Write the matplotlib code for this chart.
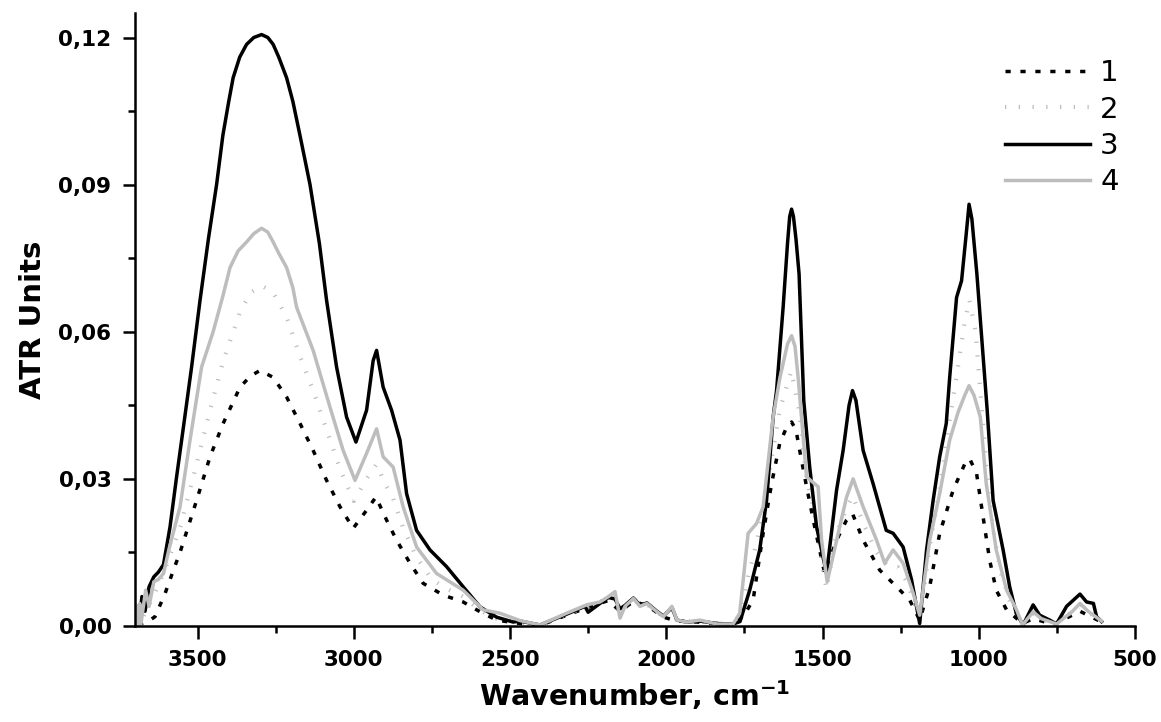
import matplotlib.pyplot as plt
from matplotlib.ticker import MultipleLocator, FuncFormatter

# series 1 - black dotted
wn1 = [3690, 3652, 3636, 3604, 3577, 3556, 3503, 3460, 3418, 3364, 3330, 3300,
       3258, 3215, 3172, 3130, 3087, 3044, 3002, 2959, 2929, 2895, 2863, 2820,
       2778, 2714, 2650, 2596, 2543, 2480, 2404, 2319, 2250, 2185, 2148, 2105,
       2062, 2009, 1966, 1900, 1790, 1754, 1722, 1690, 1663, 1637, 1615, 1599,
       1585, 1573, 1551, 1525, 1493, 1455, 1423, 1404, 1370, 1317, 1263, 1221,
       1189, 1157, 1125, 1082, 1045, 1029, 1007, 986, 965, 944, 911, 860, 826,
       760, 676, 607]
ab1 = [0.0002, 0.0012, 0.0019, 0.0066, 0.0114, 0.0150, 0.0256, 0.0345, 0.0413,
       0.0487, 0.0510, 0.0521, 0.0507, 0.0467, 0.0413, 0.0358, 0.0297, 0.0243,
       0.0199, 0.0236, 0.0263, 0.0216, 0.0175, 0.0128, 0.0087, 0.0063, 0.0049,
       0.0029, 0.0012, 0.0006, 0.0001, 0.0022, 0.0038, 0.0052, 0.0030, 0.0050,
       0.0042, 0.0018, 0.0010, 0.0008, 0.0003, 0.0019, 0.0053, 0.0189, 0.0290,
       0.0372, 0.0405, 0.0416, 0.0400, 0.0358, 0.0284, 0.0202, 0.0107, 0.0175,
       0.0216, 0.0229, 0.0175, 0.0114, 0.0080, 0.0053, 0.0012, 0.0080, 0.0189,
       0.0277, 0.0330, 0.0341, 0.0311, 0.0222, 0.0134, 0.0073, 0.0033, 0.0005,
       0.0015, 0.0003, 0.0030, 0.0008]

# series 2 - light grey hatched
wn2 = [3700, 3680, 3650, 3620, 3590, 3556, 3503, 3460, 3418, 3364, 3330, 3295,
       3258, 3215, 3172, 3130, 3087, 3044, 3000, 2959, 2927, 2900, 2874, 2842,
       2799, 2750, 2700, 2650, 2596, 2543, 2480, 2404, 2319, 2250, 2185, 2164,
       2148, 2105, 2062, 2009, 1982, 1966, 1900, 1790, 1760, 1738, 1711, 1690,
       1663, 1637, 1600, 1575, 1551, 1525, 1500, 1487, 1455, 1423, 1404, 1370,
       1327, 1290, 1260, 1230, 1210, 1189, 1160, 1125, 1093, 1066, 1045, 1030,
       1010, 995, 976, 955, 930, 900, 860, 826, 760, 676, 607]
ab2 = [0.0020, 0.0010, 0.0050, 0.0090, 0.0140, 0.0200, 0.0330, 0.0440, 0.0540,
       0.0640, 0.0680, 0.0694, 0.0680, 0.0630, 0.0550, 0.0480, 0.0400, 0.0320,
       0.0255, 0.0300, 0.0330, 0.0290, 0.0260, 0.0200, 0.0140, 0.0095, 0.0075,
       0.0060, 0.0032, 0.0015, 0.0008, 0.0001, 0.0024, 0.0040, 0.0056, 0.0060,
       0.0025, 0.0054, 0.0044, 0.0019, 0.0035, 0.0011, 0.0009, 0.0004, 0.0015,
       0.0100, 0.0170, 0.0230, 0.0340, 0.0440, 0.0520, 0.0440, 0.0300, 0.0230,
       0.0120, 0.0075, 0.0190, 0.0240, 0.0265, 0.0210, 0.0150, 0.0120, 0.0120,
       0.0090, 0.0055, 0.0010, 0.0150, 0.0280, 0.0420, 0.0530, 0.0620, 0.0665,
       0.0600, 0.0480, 0.0330, 0.0200, 0.0110, 0.0050, 0.0003, 0.0022, 0.0003,
       0.0040, 0.0009]

# series 3 - black solid
wn3 = [3700, 3693, 3686, 3678, 3668, 3655, 3640, 3625, 3609, 3588, 3567, 3545,
       3519, 3492, 3465, 3439, 3419, 3400, 3386, 3365, 3343, 3320, 3295, 3275,
       3258, 3240, 3215, 3195, 3172, 3140, 3110, 3087, 3055, 3023, 2993, 2959,
       2938, 2927, 2906, 2879, 2852, 2831, 2799, 2756, 2703, 2650, 2596, 2543,
       2490, 2468, 2404, 2319, 2260, 2250, 2212, 2185, 2164, 2148, 2132, 2105,
       2084, 2062, 2030, 2009, 1982, 1966, 1934, 1892, 1838, 1786, 1764, 1733,
       1701, 1679, 1658, 1647, 1626, 1612, 1605, 1599, 1593, 1585, 1575, 1560,
       1541, 1519, 1487, 1455, 1434, 1415, 1404, 1393, 1370, 1338, 1296, 1274,
       1242, 1215, 1189, 1167, 1146, 1125, 1104, 1093, 1071, 1055, 1040, 1031,
       1022, 1006, 973, 954, 922, 901, 880, 858, 826, 805, 773, 751, 719, 676,
       655, 633, 623, 607]
ab3 = [0.0010, 0.0040, 0.0008, 0.0060, 0.0030, 0.0080, 0.0100, 0.0110, 0.0125,
       0.0202, 0.0304, 0.0406, 0.0528, 0.0664, 0.0790, 0.0900, 0.1000, 0.1070,
       0.1118, 0.1160, 0.1186, 0.1200, 0.1206, 0.1200, 0.1186, 0.1160, 0.1118,
       0.1070, 0.1000, 0.0900, 0.0780, 0.0664, 0.0528, 0.0426, 0.0375, 0.0440,
       0.0541, 0.0562, 0.0487, 0.0440, 0.0379, 0.0270, 0.0195, 0.0155, 0.0121,
       0.0080, 0.0039, 0.0018, 0.0008, 0.0010, 0.0002, 0.0024, 0.0040, 0.0028,
       0.0046, 0.0058, 0.0055, 0.0035, 0.0042, 0.0057, 0.0042, 0.0047, 0.0030,
       0.0020, 0.0038, 0.0012, 0.0008, 0.0010, 0.0005, 0.0004, 0.0009, 0.0073,
       0.0155, 0.0256, 0.0426, 0.0480, 0.0650, 0.0780, 0.0835, 0.0850, 0.0835,
       0.0790, 0.0718, 0.0460, 0.0324, 0.0202, 0.0107, 0.0277, 0.0358, 0.0450,
       0.0480, 0.0460, 0.0358, 0.0290, 0.0195, 0.0189, 0.0161, 0.0094, 0.0005,
       0.0155, 0.0256, 0.0345, 0.0413, 0.0507, 0.0670, 0.0704, 0.0800, 0.0860,
       0.0830, 0.0718, 0.0440, 0.0256, 0.0155, 0.0080, 0.0026, 0.0002, 0.0043,
       0.0022, 0.0012, 0.0004, 0.0040, 0.0065, 0.0049, 0.0046, 0.0019, 0.0009]

# series 4 - grey solid
wn4 = [3700, 3698, 3692, 3685, 3682, 3666, 3655, 3640, 3625, 3609, 3590, 3556,
       3524, 3487, 3450, 3420, 3396, 3370, 3343, 3320, 3295, 3275, 3258, 3240,
       3215, 3195, 3183, 3130, 3076, 3034, 2996, 2959, 2927, 2906, 2874, 2842,
       2799, 2735, 2650, 2586, 2532, 2468, 2404, 2319, 2255, 2212, 2185, 2164,
       2148, 2132, 2105, 2084, 2062, 2030, 2009, 1982, 1966, 1934, 1892, 1838,
       1786, 1765, 1738, 1711, 1690, 1658, 1636, 1612, 1599, 1588, 1578, 1551,
       1514, 1503, 1485, 1445, 1423, 1402, 1370, 1327, 1301, 1274, 1242, 1210,
       1189, 1157, 1125, 1093, 1066, 1045, 1031, 1015, 995, 976, 944, 911, 879,
       860, 826, 800, 751, 700, 676, 650, 607]
ab4 = [0.0030, 0.0043, 0.0002, 0.0046, 0.0000, 0.0073, 0.0040, 0.0090, 0.0095,
       0.0107, 0.0160, 0.0243, 0.0379, 0.0528, 0.0600, 0.0670, 0.0731, 0.0765,
       0.0783, 0.0800, 0.0811, 0.0803, 0.0783, 0.0760, 0.0731, 0.0690, 0.0650,
       0.0562, 0.0446, 0.0358, 0.0297, 0.0352, 0.0402, 0.0345, 0.0324, 0.0243,
       0.0161, 0.0107, 0.0073, 0.0033, 0.0026, 0.0011, 0.0002, 0.0026, 0.0043,
       0.0049, 0.0060, 0.0070, 0.0016, 0.0040, 0.0056, 0.0040, 0.0046, 0.0029,
       0.0019, 0.0040, 0.0012, 0.0008, 0.0012, 0.0004, 0.0004, 0.0026, 0.0189,
       0.0209, 0.0243, 0.0426, 0.0507, 0.0575, 0.0592, 0.0570, 0.0507, 0.0304,
       0.0284, 0.0175, 0.0090, 0.0202, 0.0263, 0.0300, 0.0243, 0.0175, 0.0128,
       0.0155, 0.0128, 0.0067, 0.0022, 0.0175, 0.0270, 0.0379, 0.0436, 0.0470,
       0.0490, 0.0470, 0.0426, 0.0290, 0.0155, 0.0073, 0.0033, 0.0002, 0.0029,
       0.0015, 0.0004, 0.0030, 0.0046, 0.0030, 0.0010]

labels = ["1", "2", "3", "4"]

plt.rcParams["font.family"] = ["DejaVu Sans"]
plt.rcParams["mathtext.default"] = "bf"

fig = plt.figure(figsize=(11.61, 7.22), dpi=100)
ax = fig.add_axes([0.1163, 0.1330, 0.8613, 0.8490])

ax.plot(wn1, ab1, color="black", lw=2.5, ls=(0, (1.5, 2.8)), label=labels[0])
ax.plot(wn2, ab2, color="#bdbdbd", lw=3.0, ls=(0, (0.3, 3.0)), label=labels[1])
ax.plot(wn3, ab3, color="black", lw=2.5, label=labels[2])
ax.plot(wn4, ab4, color="#bdbdbd", lw=2.5, label=labels[3])

ax.set_xlim(3700, 500)
ax.set_ylim(0, 0.125)

ax.spines["top"].set_visible(False)
ax.spines["right"].set_visible(False)
ax.spines["left"].set_linewidth(1.8)
ax.spines["bottom"].set_linewidth(1.8)

ax.xaxis.set_major_locator(MultipleLocator(500))
ax.xaxis.set_minor_locator(MultipleLocator(250))
ax.yaxis.set_major_locator(MultipleLocator(0.03))
ax.yaxis.set_minor_locator(MultipleLocator(0.015))
ax.yaxis.set_major_formatter(FuncFormatter(lambda v, p: f"{v:.2f}".replace(".", ",")))

ax.tick_params(which="major", direction="out", length=9, width=1.8, pad=8,
               labelsize=15.5)
ax.tick_params(which="minor", direction="out", length=5, width=1.8)
for t in ax.get_xticklabels() + ax.get_yticklabels():
    t.set_fontweight("bold")

ax.set_xlabel(r"Wavenumber, cm$^{-1}$", fontsize=20.5, fontweight="bold", labelpad=6)
ax.set_ylabel("ATR Units", fontsize=21, fontweight="bold", labelpad=8)

ax.legend(loc="upper right", bbox_to_anchor=(1.01, 0.967), frameon=False,
          fontsize=21, handlelength=2.9, handletextpad=0.35, labelspacing=0.28)

fig.savefig("out.png", dpi=100)
